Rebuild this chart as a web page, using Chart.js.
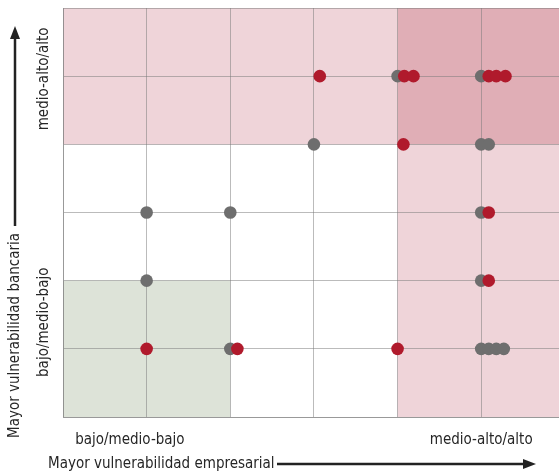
<!DOCTYPE html>
<html><head><meta charset="utf-8">
<script src="https://cdn.jsdelivr.net/npm/chart.js@4/dist/chart.umd.min.js"></script>
<style>html,body{margin:0;padding:0;background:#fff;}#wrap{width:559px;height:476px;position:relative;}</style>
</head><body><div id="wrap"><canvas id="c"></canvas></div>
<script>
// ---- data ----
const grayX = [4.0, 5.0, 3.0, 5.0, 5.09, 1.0, 2.0, 5.0, 1.0, 5.0, 2.0, 5.0, 5.09, 5.18, 5.27];
const grayY = [5, 5, 4, 4, 4, 3, 3, 3, 2, 2, 1, 1, 1, 1, 1];
const redX = [3.07, 4.08, 4.19, 5.09, 5.18, 5.29, 4.07, 5.09, 5.09, 1.0, 2.085, 4.0];
const redY = [5, 5, 5, 5, 5, 5, 4, 3, 2, 1, 1, 1];
const xTickLabels = ['bajo/medio-bajo', 'medio-alto/alto'];
const xTickValues = [0.8, 5.0];
const yTickLabels = ['bajo/medio-bajo', 'medio-alto/alto'];
const yTickValues = [1.39, 4.96];
const xTitle = 'Mayor vulnerabilidad empresarial';
const yTitle = 'Mayor vulnerabilidad bancaria';
// shaded zones [x0, x1, y0, y1]
const zoneLight1 = [0, 4, 4, 6];
const zoneLight2 = [4, 5.93, 0, 4];
const zoneDark = [4, 5.93, 4, 6];
const zoneGreen = [0, 2, 0, 2];

const toPts = (xs, ys) => xs.map((x, i) => ({x, y: ys[i]}));

const FONT = '"Liberation Sans Narrow", "DejaVu Sans Condensed", "Liberation Sans", sans-serif';

const zonesPlugin = {
  id: 'zones',
  beforeDraw(chart) {
    const {ctx, chartArea: a, scales: {x, y}} = chart;
    const zones = [[zoneLight1, '#efd4d9'], [zoneLight2, '#efd4d9'], [zoneDark, '#e0aeb6'], [zoneGreen, '#dde3d8']];
    ctx.save();
    ctx.beginPath(); ctx.rect(a.left, a.top, a.right - a.left, a.bottom - a.top); ctx.clip();
    zones.forEach(([z, col]) => {
      const x0 = x.getPixelForValue(z[0]), x1 = x.getPixelForValue(z[1]);
      const y0 = y.getPixelForValue(z[3]), y1 = y.getPixelForValue(z[2]);
      ctx.fillStyle = col;
      ctx.fillRect(x0, y0, x1 - x0, y1 - y0);
    });
    ctx.restore();
  }
};

const textPlugin = {
  id: 'texts',
  afterDraw(chart) {
    const {ctx, scales: {x, y}} = chart;
    ctx.save();
    ctx.fillStyle = '#262626';
    ctx.font = '15px ' + FONT;
    ctx.textBaseline = 'middle';
    ctx.textAlign = 'center';
    xTickLabels.forEach((t, i) => ctx.fillText(t, x.getPixelForValue(xTickValues[i]), 440));
    yTickLabels.forEach((t, i) => {
      ctx.save();
      ctx.translate(44, y.getPixelForValue(yTickValues[i]));
      ctx.rotate(-Math.PI / 2);
      ctx.fillText(t, 0, 0);
      ctx.restore();
    });
    // x title + arrow
    ctx.textAlign = 'left';
    ctx.fillText(xTitle, 48, 464);
    ctx.strokeStyle = '#222'; ctx.fillStyle = '#222'; ctx.lineWidth = 2.5;
    ctx.beginPath(); ctx.moveTo(277, 464); ctx.lineTo(526, 464); ctx.stroke();
    ctx.beginPath(); ctx.moveTo(536, 464); ctx.lineTo(523, 459); ctx.lineTo(523, 469); ctx.closePath(); ctx.fill();
    // y title + arrow
    ctx.fillStyle = '#262626';
    ctx.save();
    ctx.translate(15, 438);
    ctx.rotate(-Math.PI / 2);
    ctx.textAlign = 'left';
    ctx.fillText(yTitle, 0, 0);
    ctx.restore();
    ctx.fillStyle = '#222';
    ctx.beginPath(); ctx.moveTo(15, 226); ctx.lineTo(15, 36); ctx.stroke();
    ctx.beginPath(); ctx.moveTo(15, 26); ctx.lineTo(10, 39); ctx.lineTo(20, 39); ctx.closePath(); ctx.fill();
    ctx.restore();
  }
};

const gridCol = 'rgba(120,120,120,0.5)';
new Chart(document.getElementById('c'), {
  type: 'scatter',
  data: {
    datasets: [
      {label: 'rojo', data: toPts(redX, redY), backgroundColor: '#b01a2c', borderWidth: 0, pointRadius: 6.3, pointHoverRadius: 6.3},
      {label: 'gris', data: toPts(grayX, grayY), backgroundColor: '#6e6e6e', borderWidth: 0, pointRadius: 6.3, pointHoverRadius: 6.3}
    ]
  },
  options: {
    responsive: true, maintainAspectRatio: false, animation: false,
    layout: {autoPadding: false, padding: {left: 63, top: 8, right: 0, bottom: 59}},
    plugins: {legend: {display: false}, tooltip: {enabled: false}},
    events: [],
    scales: {
      x: {type: 'linear', min: 0, max: 5.93,
          ticks: {display: false, stepSize: 1},
          afterBuildTicks: s => { s.ticks = [0,1,2,3,4,5].map(v => ({value: v})); },
          grid: {color: gridCol, drawTicks: false, lineWidth: 1},
          border: {display: true, color: gridCol}},
      y: {type: 'linear', min: 0, max: 6,
          ticks: {display: false, stepSize: 1},
          grid: {color: gridCol, drawTicks: false, lineWidth: 1},
          border: {display: true, color: gridCol}}
    }
  },
  plugins: [zonesPlugin, textPlugin]
});
</script>
</body></html>
